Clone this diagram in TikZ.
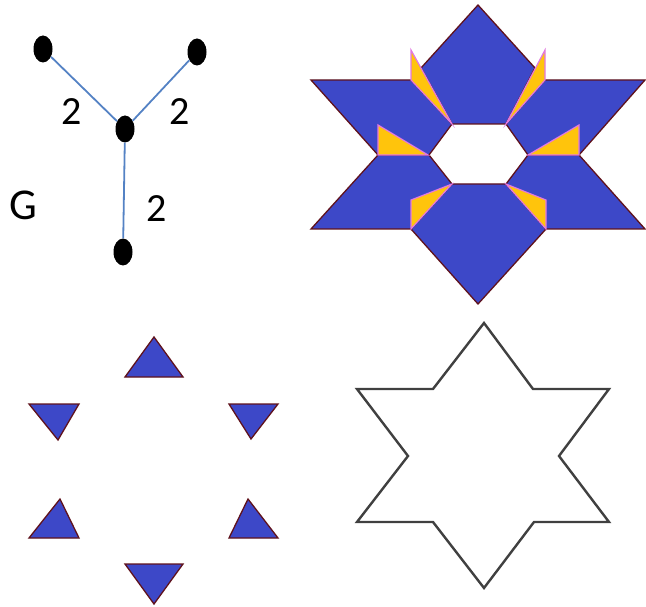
\documentclass[tikz,border=0pt]{standalone}
\usepackage{fontspec}
\newfontfamily\labelfont{Carlito}
\usetikzlibrary{shapes.geometric, positioning}
\definecolor{starblue}{RGB}{61,72,200}
\definecolor{wedgeyellow}{RGB}{255,196,12}
\definecolor{piecerim}{RGB}{95,18,28}
\definecolor{wedgerim}{RGB}{225,120,225}
\definecolor{edgeblue}{RGB}{84,130,196}

\tikzset{
  vertex/.style={ellipse, fill=black, minimum width=19pt, minimum height=27pt, inner sep=0pt},
  weight/.style={font=\labelfont\fontsize{40}{40}\selectfont, inner sep=0pt},
  piece/.style={fill=starblue, draw=piecerim, line width=1.3pt},
  wedge/.style={fill=wedgeyellow, draw=wedgerim, line width=1.2pt},
}

\begin{document}
\begin{tikzpicture}[x=1pt, y=-1pt]
  \useasboundingbox (0,0) rectangle (646,607);

  % the graph G
  \node[vertex] (left) at (43,49) {};
  \node[vertex] (right) at (197,52) {};
  \node[vertex] (hub) at (125,129) {};
  \node[vertex] (foot) at (123,252) {};
  \draw[edgeblue, line width=1.8pt] (left) -- (hub) -- (right);
  \draw[edgeblue, line width=1.8pt] (hub) -- (foot);
  \node[weight] (wleft) at (72,112) {2};
  \node[weight] (wright) at (180,112) {2};
  \node[weight] (wfoot) at (157,209) {2};
  \node[font=\labelfont\fontsize{44}{44}\selectfont, inner sep=0pt] (name) at (23,205) {G};

  % star cut into six pieces
  \filldraw[piece] (478,5) -- (421,68) -- (452,124) -- (506,124) -- (535,68) -- cycle;
  \filldraw[piece] (311,80) -- (411,80) -- (452,124) -- (429,155) -- (378,155) -- cycle;
  \filldraw[piece] (645,80) -- (545,80) -- (506,124) -- (528,155) -- (579,155) -- cycle;
  \filldraw[piece] (311,229) -- (378,155) -- (429,155) -- (452,184) -- (411,229) -- cycle;
  \filldraw[piece] (645,229) -- (579,155) -- (528,155) -- (506,184) -- (546,229) -- cycle;
  \filldraw[piece] (478,304) -- (411,229) -- (452,184) -- (506,184) -- (546,229) -- cycle;
  % gaps between the pieces
  \filldraw[wedge] (411,50) -- (411,80) -- (452,124) -- cycle;
  \filldraw[wedge] (545,50) -- (545,80) -- (506,124) -- cycle;
  \filldraw[wedge] (378,125) -- (378,155) -- (428,155) -- cycle;
  \filldraw[wedge] (579,125) -- (579,155) -- (528,155) -- cycle;
  \filldraw[wedge] (411,200) -- (411,229) -- (452,184) -- cycle;
  \filldraw[wedge] (546,200) -- (546,229) -- (506,184) -- cycle;

  % six triangles
  \filldraw[piece] (125,377) -- (183,377) -- (154,337) -- cycle;
  \filldraw[piece] (29,404) -- (79,404) -- (58,440) -- cycle;
  \filldraw[piece] (229,404) -- (278,404) -- (251,439) -- cycle;
  \filldraw[piece] (29,538) -- (79,538) -- (60,499) -- cycle;
  \filldraw[piece] (229,538) -- (278,538) -- (248,499) -- cycle;
  \filldraw[piece] (125,564) -- (183,564) -- (154,604) -- cycle;

  % outline of the star
  \draw[black!75, line width=2.4pt]
    (484,323) -- (433,389) -- (357,389) -- (408,456) -- (357,522) -- (433,522)
    -- (484,588) -- (534,522) -- (609,522) -- (559,456) -- (609,389) -- (533,389) -- cycle;
\end{tikzpicture}
\end{document}
